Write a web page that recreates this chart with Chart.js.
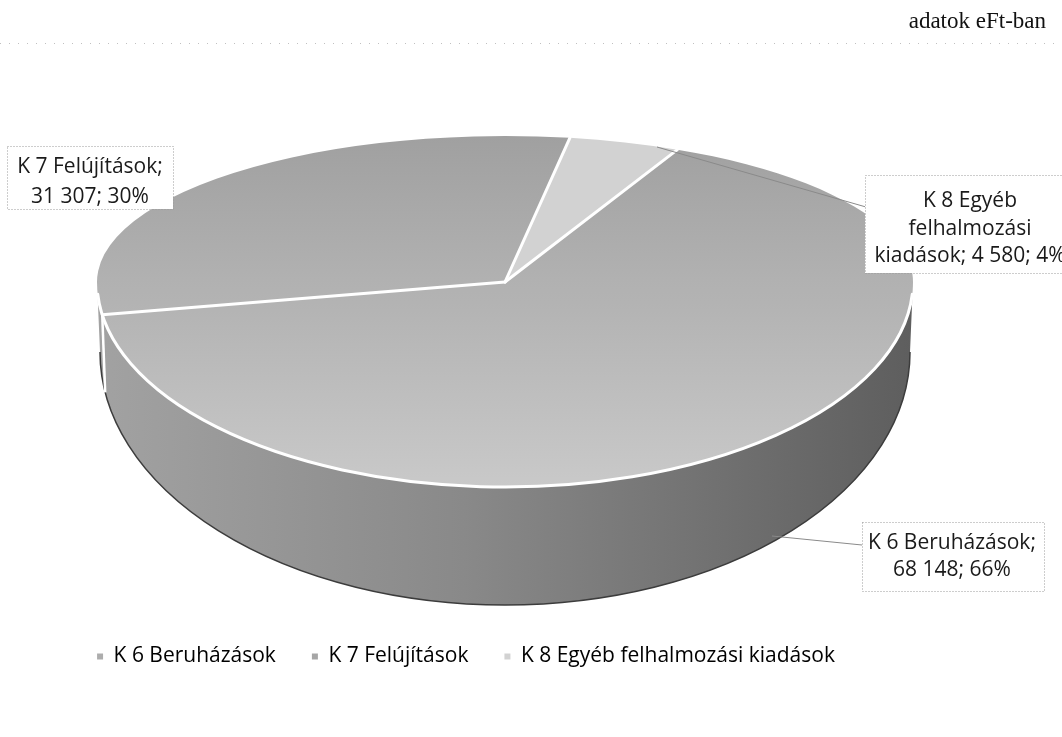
<!DOCTYPE html>
<html><head><meta charset="utf-8">
<script src="https://cdn.jsdelivr.net/npm/chart.js@4.4.0/dist/chart.umd.min.js"></script>
<style>html,body{margin:0;padding:0;background:#fff;} #wrap{position:relative;width:1062px;height:737px;}</style>
</head><body><div id="wrap"><canvas id="c"></canvas></div>
<script>
// ---- data ----
const categories = ['K 6 Beruházások', 'K 7 Felújítások', 'K 8 Egyéb felhalmozási kiadások'];
const values = [68148, 31307, 4580];
const unitNote = 'adatok eFt-ban';

const total = values.reduce((a, b) => a + b, 0);
const fmt = v => String(v).replace(/\B(?=(\d{3})+(?!\d))/g, ' ');
const pct = v => Math.round(v / total * 100) + '%';
const labelLines = [
  [categories[0] + ';', fmt(values[0]) + '; ' + pct(values[0])],
  [categories[1] + ';', fmt(values[1]) + '; ' + pct(values[1])],
  ['K 8 Egyéb', 'felhalmozási', 'kiadások; ' + fmt(values[2]) + '; ' + pct(values[2])]
];

// ---- style / geometry ----
const G = {cx: 505, cy: 282, rx: 408, ryT: 146, ryB: 205, wallCy: 352, wallRx: 405, wallRy: 253};
const W = 1062, H = 737;
const FONT = '"Open Sans", "Noto Sans", sans-serif';
const solidColors = ['#adadad', '#a6a6a6', '#d2d2d2'];
const labelBoxes = [
  {x: 862, y: 522, w: 182, h: 69, cx: 952, base: [549, 576]},
  {x: 7, y: 146, w: 166, h: 63, cx: 90, base: [173, 203]},
  {x: 865, y: 175, w: 220, h: 98, cx: 970, base: [207, 235, 262]}
];
const leaders = [
  [[772, 536], [862, 545]],
  null,
  [[657, 147], [866, 207]]
];

function ellPt(a) {
  const s = Math.sin(a);
  return [G.cx + G.rx * Math.cos(a), G.cy + (s < 0 ? G.ryT : G.ryB) * s];
}
function wallPt(a) {
  return [G.cx + G.wallRx * Math.cos(a), G.wallCy + G.wallRy * Math.sin(a)];
}
function applyTf(ctx, el, ry) {
  ctx.translate(G.cx, G.cy);
  ctx.scale(G.rx / el.outerRadius, ry / el.outerRadius);
  ctx.translate(-el.x, -el.y);
}

const pie3d = {
  id: 'pie3d',
  beforeDatasetsDraw(chart) {
    const ctx = chart.ctx;
    const arcs = chart.getDatasetMeta(0).data;
    // side wall
    const grad = ctx.createLinearGradient(G.cx - G.rx, 0, G.cx + G.rx, 0);
    grad.addColorStop(0, '#a2a2a2');
    grad.addColorStop(0.45, '#898989');
    grad.addColorStop(1, '#5e5e5e');
    ctx.save();
    arcs.forEach(el => {
      const s = el.startAngle, e = el.endAngle;
      for (const k of [-1, 0, 1]) {
        const a0 = Math.max(s, 2 * Math.PI * k), a1 = Math.min(e, Math.PI + 2 * Math.PI * k);
        if (a1 > a0) {
          ctx.beginPath();
          ctx.ellipse(G.cx, G.cy, G.rx, G.ryB, 0, a0, a1);
          ctx.ellipse(G.cx, G.wallCy, G.wallRx, G.wallRy, 0, a1, a0, true);
          ctx.closePath();
          ctx.fillStyle = grad;
          ctx.fill();
        }
      }
    });
    ctx.beginPath();
    ctx.ellipse(G.cx, G.wallCy, G.wallRx, G.wallRy, 0, 0, Math.PI);
    ctx.strokeStyle = '#3c3c3c';
    ctx.lineWidth = 1.5;
    ctx.stroke();
    // wall separators
    arcs.forEach(el => {
      let a = el.startAngle % (2 * Math.PI);
      if (a < 0) a += 2 * Math.PI;
      if (a > 0.02 && a < Math.PI - 0.02) {
        const p = ellPt(a), q = wallPt(a);
        ctx.beginPath();
        ctx.moveTo(p[0], p[1]);
        ctx.lineTo(q[0], q[1]);
        ctx.strokeStyle = '#ffffff';
        ctx.lineWidth = 2.5;
        ctx.stroke();
      }
    });
    ctx.restore();
    // top half of the face
    ctx.save();
    ctx.beginPath();
    ctx.rect(0, 0, W, G.cy);
    ctx.clip();
    applyTf(ctx, arcs[0], G.ryT);
  },
  afterDatasetsDraw(chart) {
    const ctx = chart.ctx;
    const arcs = chart.getDatasetMeta(0).data;
    ctx.restore();
    // bottom half of the face
    ctx.save();
    ctx.beginPath();
    ctx.rect(0, G.cy, W, H - G.cy);
    ctx.clip();
    applyTf(ctx, arcs[0], G.ryB);
    arcs.forEach(el => el.draw(ctx));
    ctx.restore();
    // separators
    ctx.save();
    ctx.strokeStyle = '#ffffff';
    ctx.lineWidth = 3;
    ctx.lineCap = 'round';
    arcs.forEach(el => {
      const p = ellPt(el.startAngle);
      ctx.beginPath();
      ctx.moveTo(G.cx, G.cy);
      ctx.lineTo(p[0], p[1]);
      ctx.stroke();
    });
    ctx.beginPath();
    ctx.ellipse(G.cx, G.cy, G.rx, G.ryB, 0, 0.06, Math.PI - 0.06);
    ctx.stroke();
    ctx.restore();
  },
  afterDraw(chart) {
    const ctx = chart.ctx;
    ctx.save();
    // header note
    ctx.font = '23px "Liberation Serif", "Times New Roman", serif';
    ctx.fillStyle = '#111';
    ctx.textAlign = 'right';
    ctx.textBaseline = 'alphabetic';
    ctx.fillText(unitNote, 1046, 28);
    ctx.beginPath();
    ctx.setLineDash([1, 8]);
    ctx.strokeStyle = '#c0c0c0';
    ctx.lineWidth = 1;
    ctx.moveTo(0, 43.5);
    ctx.lineTo(W, 43.5);
    ctx.stroke();
    // leaders
    ctx.setLineDash([]);
    leaders.forEach(l => {
      if (!l) return;
      ctx.beginPath();
      ctx.moveTo(l[0][0], l[0][1]);
      ctx.lineTo(l[1][0], l[1][1]);
      ctx.strokeStyle = '#8a8a8a';
      ctx.lineWidth = 1;
      ctx.stroke();
    });
    // data labels
    labelBoxes.forEach((b, i) => {
      ctx.fillStyle = '#ffffff';
      ctx.fillRect(b.x, b.y, b.w, b.h);
      ctx.setLineDash([1, 2]);
      ctx.strokeStyle = '#9a9a9a';
      ctx.lineWidth = 1;
      ctx.strokeRect(b.x + 0.5, b.y + 0.5, b.w, b.h);
      ctx.setLineDash([]);
      ctx.font = '21px ' + FONT;
      ctx.fillStyle = '#1a1a1a';
      ctx.textAlign = 'center';
      labelLines[i].forEach((t, j) => ctx.fillText(t, b.cx, b.base[j]));
    });
    ctx.restore();
  }
};

new Chart(document.getElementById('c'), {
  type: 'pie',
  data: {
    labels: categories,
    datasets: [{
      data: values,
      borderWidth: 0,
      backgroundColor: (c) => {
        const ch = c.chart, a = ch.chartArea;
        if (!a || c.dataIndex === 2) return solidColors[c.dataIndex];
        const g = ch.ctx.createLinearGradient(0, a.top, 0, a.bottom);
        g.addColorStop(0, '#a0a0a0');
        g.addColorStop(0.55, '#b3b3b3');
        g.addColorStop(1, '#c9c9c9');
        return g;
      }
    }]
  },
  options: {
    responsive: true,
    maintainAspectRatio: false,
    animation: false,
    events: [],
    rotation: 25,
    layout: {padding: {left: 0, right: 130, top: 10, bottom: 60}},
    plugins: {
      tooltip: {enabled: false},
      legend: {
        position: 'bottom',
        labels: {
          font: {family: FONT, size: 21},
          color: '#1a1a1a',
          boxWidth: 6,
          boxHeight: 6,
          padding: 36,
          generateLabels: (chart) => categories.map((t, i) => ({
            text: t, fillStyle: solidColors[i], strokeStyle: solidColors[i], lineWidth: 0, index: i, hidden: false
          }))
        }
      }
    }
  },
  plugins: [pie3d]
});
</script>
</body></html>
